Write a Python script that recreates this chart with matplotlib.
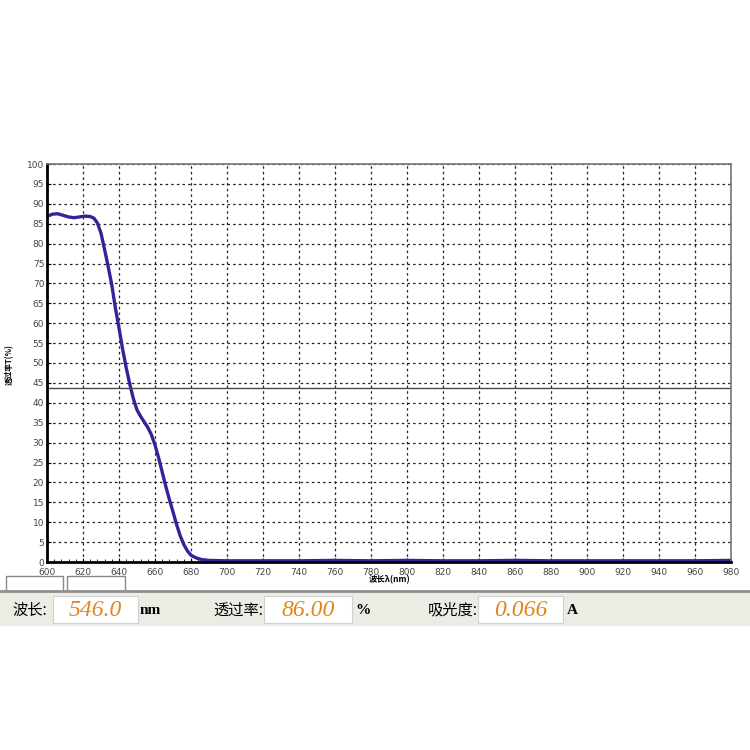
import matplotlib.pyplot as plt
from matplotlib.patches import Rectangle
import numpy as np

# transmission spectrum
wavelength = [600, 603, 606, 609, 612, 615, 618, 621, 624, 626, 628, 630, 632, 634,
              636, 638, 640, 642, 644, 646, 648, 650, 652, 654, 656, 658, 660, 662,
              664, 666, 668, 670, 672, 674, 676, 678, 680, 683, 686, 690, 700, 720,
              740, 760, 780, 800, 820, 840, 860, 880, 900, 920, 940, 960, 980]
transmit = [86.8, 87.4, 87.5, 87.1, 86.7, 86.5, 86.7, 86.9, 86.8, 86.4, 85.2, 82.6,
            78.5, 74.2, 69.6, 63.8, 58.8, 53.5, 48.8, 44.7, 41.0, 38.2, 36.6, 35.2,
            33.8, 32.0, 29.4, 26.2, 22.6, 19.0, 15.7, 12.6, 9.4, 6.6, 4.4, 2.8,
            1.7, 1.0, 0.6, 0.4, 0.3, 0.3, 0.3, 0.4, 0.3, 0.4, 0.3, 0.3, 0.4, 0.3,
            0.3, 0.3, 0.3, 0.3, 0.4]
marker_level = 43.7

x_ticks = list(range(600, 981, 20))
y_ticks = list(range(0, 101, 5))

readouts = [("波长:", "546.0", "nm"), ("透过率:", "86.00", "%"), ("吸光度:", "0.066", "A")]

W = H = 750
fig = plt.figure(figsize=(7.5, 7.5), dpi=100)
fig.patch.set_facecolor("white")

def fx(px):
    return px / W

def fy(py):
    return 1 - py / H

ax = fig.add_axes([fx(47), fy(562), fx(731) - fx(47), fy(164) - fy(562)])
ax.plot(wavelength, transmit, color="#3b1f9a", lw=2.4, solid_capstyle="round")
ax.axhline(marker_level, color="#3f4f45", lw=1.0)

ax.set_xlim(600, 980)
ax.set_ylim(0, 100)
ax.set_xticks(x_ticks)
ax.set_yticks(y_ticks)
ax.set_xticks(np.arange(600, 981, 4), minor=True)
ax.grid(True, which="major", color="#222222", ls=(0, (2, 2.5)), lw=0.9)
ax.tick_params(axis="both", which="major", labelsize=6.5, labelcolor="#444444",
               length=3, width=0.8, direction="in")
ax.tick_params(axis="x", which="minor", length=2, width=0.6, direction="in")
ax.tick_params(axis="x", pad=4)
ax.tick_params(axis="y", pad=2)
for s in ["left", "bottom"]:
    ax.spines[s].set_linewidth(2.0)
    ax.spines[s].set_color("black")
for s in ["top", "right"]:
    ax.spines[s].set_linewidth(1.2)
    ax.spines[s].set_color("#777777")

cjk = ["Noto Sans CJK SC", "DejaVu Sans"]
fig.text(fx(9), fy(365), "透过率T(%)", rotation=90, ha="center", va="center",
         fontsize=5.5, fontweight="bold", family=cjk)
fig.text(fx(390), fy(580), "波长λ(nm)", ha="center", va="center",
         fontsize=6, fontweight="bold", family=cjk)

# small empty boxes under the axis
for x0, x1 in [(6, 63), (67, 125)]:
    fig.patches.append(Rectangle((fx(x0), fy(592)), fx(x1) - fx(x0), fy(576) - fy(592),
                                 transform=fig.transFigure, facecolor="white",
                                 edgecolor="#888888", lw=1.0))

# readout panel
fig.patches.append(Rectangle((0, fy(626)), 1, fy(591) - fy(626), transform=fig.transFigure,
                             facecolor="#ecebe4", edgecolor="none"))
fig.lines.append(plt.Line2D([0, 1], [fy(591), fy(591)], transform=fig.transFigure,
                            color="#8f8f8f", lw=2.0))

label_x = [12, 213, 428]
box_x = [(53, 138), (264, 352), (478, 563)]
unit_x = [140, 355, 567]
for (lab, val, unit), lx, (b0, b1), ux in zip(readouts, label_x, box_x, unit_x):
    fig.text(fx(lx), fy(610), lab, ha="left", va="center", fontsize=11, family=cjk)
    fig.patches.append(Rectangle((fx(b0), fy(623)), fx(b1) - fx(b0), fy(596) - fy(623),
                                 transform=fig.transFigure, facecolor="white",
                                 edgecolor="#d0d0d0", lw=0.8))
    fig.text(fx((b0 + b1) / 2), fy(610), val, ha="center", va="center", fontsize=17,
             style="italic", color="#e0861e", family="Liberation Serif")
    fig.text(fx(ux), fy(610), unit, ha="left", va="center", fontsize=11,
             fontweight="bold", family="Liberation Serif")

fig.savefig("out.png", dpi=100)
